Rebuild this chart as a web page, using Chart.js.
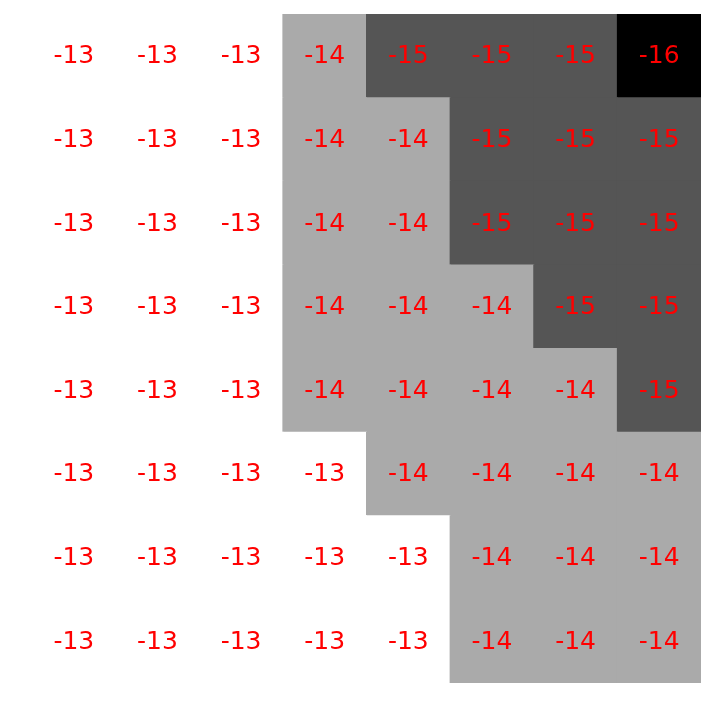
<!DOCTYPE html>
<html>
<head>
<meta charset="utf-8">
<script src="https://cdn.jsdelivr.net/npm/chart.js@4.4.1/dist/chart.umd.min.js"></script>
<style>
html,body{margin:0;padding:0;background:#fff;}
#wrap{width:720px;height:720px;}
</style>
</head>
<body>
<div id="wrap"><canvas id="c" width="720" height="720"></canvas></div>
<script>
const columns = ['0','1','2','3','4','5','6','7'];
const row0 = [-13,-13,-13,-14,-15,-15,-15,-16];
const row1 = [-13,-13,-13,-14,-14,-15,-15,-15];
const row2 = [-13,-13,-13,-14,-14,-15,-15,-15];
const row3 = [-13,-13,-13,-14,-14,-14,-15,-15];
const row4 = [-13,-13,-13,-14,-14,-14,-14,-15];
const row5 = [-13,-13,-13,-13,-14,-14,-14,-14];
const row6 = [-13,-13,-13,-13,-13,-14,-14,-14];
const row7 = [-13,-13,-13,-13,-13,-14,-14,-14];
const rows = [row0,row1,row2,row3,row4,row5,row6,row7];
const vmin = -16, vmax = -13;

function gray(v){
  const t = (v - vmin)/(vmax - vmin);
  const g = Math.round(t*255);
  return `rgb(${g},${g},${g})`;
}

// Stack bottom row first
const datasets = rows.slice().reverse().map((r,i)=>({
  label: 'row'+(rows.length-1-i),
  data: r.map(()=>1),
  values: r,
  backgroundColor: r.map(gray),
  borderWidth: 0,
  inflateAmount: 0.5,
  categoryPercentage: 1.0,
  barPercentage: 1.0
}));

const labelPlugin = {
  id:'cellLabels',
  afterDatasetsDraw(chart){
    const ctx = chart.ctx;
    ctx.save();
    ctx.fillStyle = 'red';
    ctx.font = '25px "DejaVu Sans"';
    ctx.textAlign = 'center';
    ctx.textBaseline = 'middle';
    chart.data.datasets.forEach((ds,di)=>{
      const meta = chart.getDatasetMeta(di);
      meta.data.forEach((bar,j)=>{
        const cy = (bar.y + bar.base)/2 + 1;
        ctx.fillText(String(ds.values[j]), bar.x, cy);
      });
    });
    ctx.restore();
  }
};

new Chart(document.getElementById('c'),{
  type:'bar',
  data:{labels:columns, datasets},
  options:{
    responsive:false,
    animation:false,
    devicePixelRatio:1,
    layout:{padding:{left:32,right:19,top:14,bottom:37}},
    plugins:{legend:{display:false},tooltip:{enabled:false}},
    scales:{
      x:{display:false,stacked:true,offset:true},
      y:{display:false,stacked:true,min:0,max:8}
    }
  },
  plugins:[labelPlugin]
});
</script>
</body>
</html>
